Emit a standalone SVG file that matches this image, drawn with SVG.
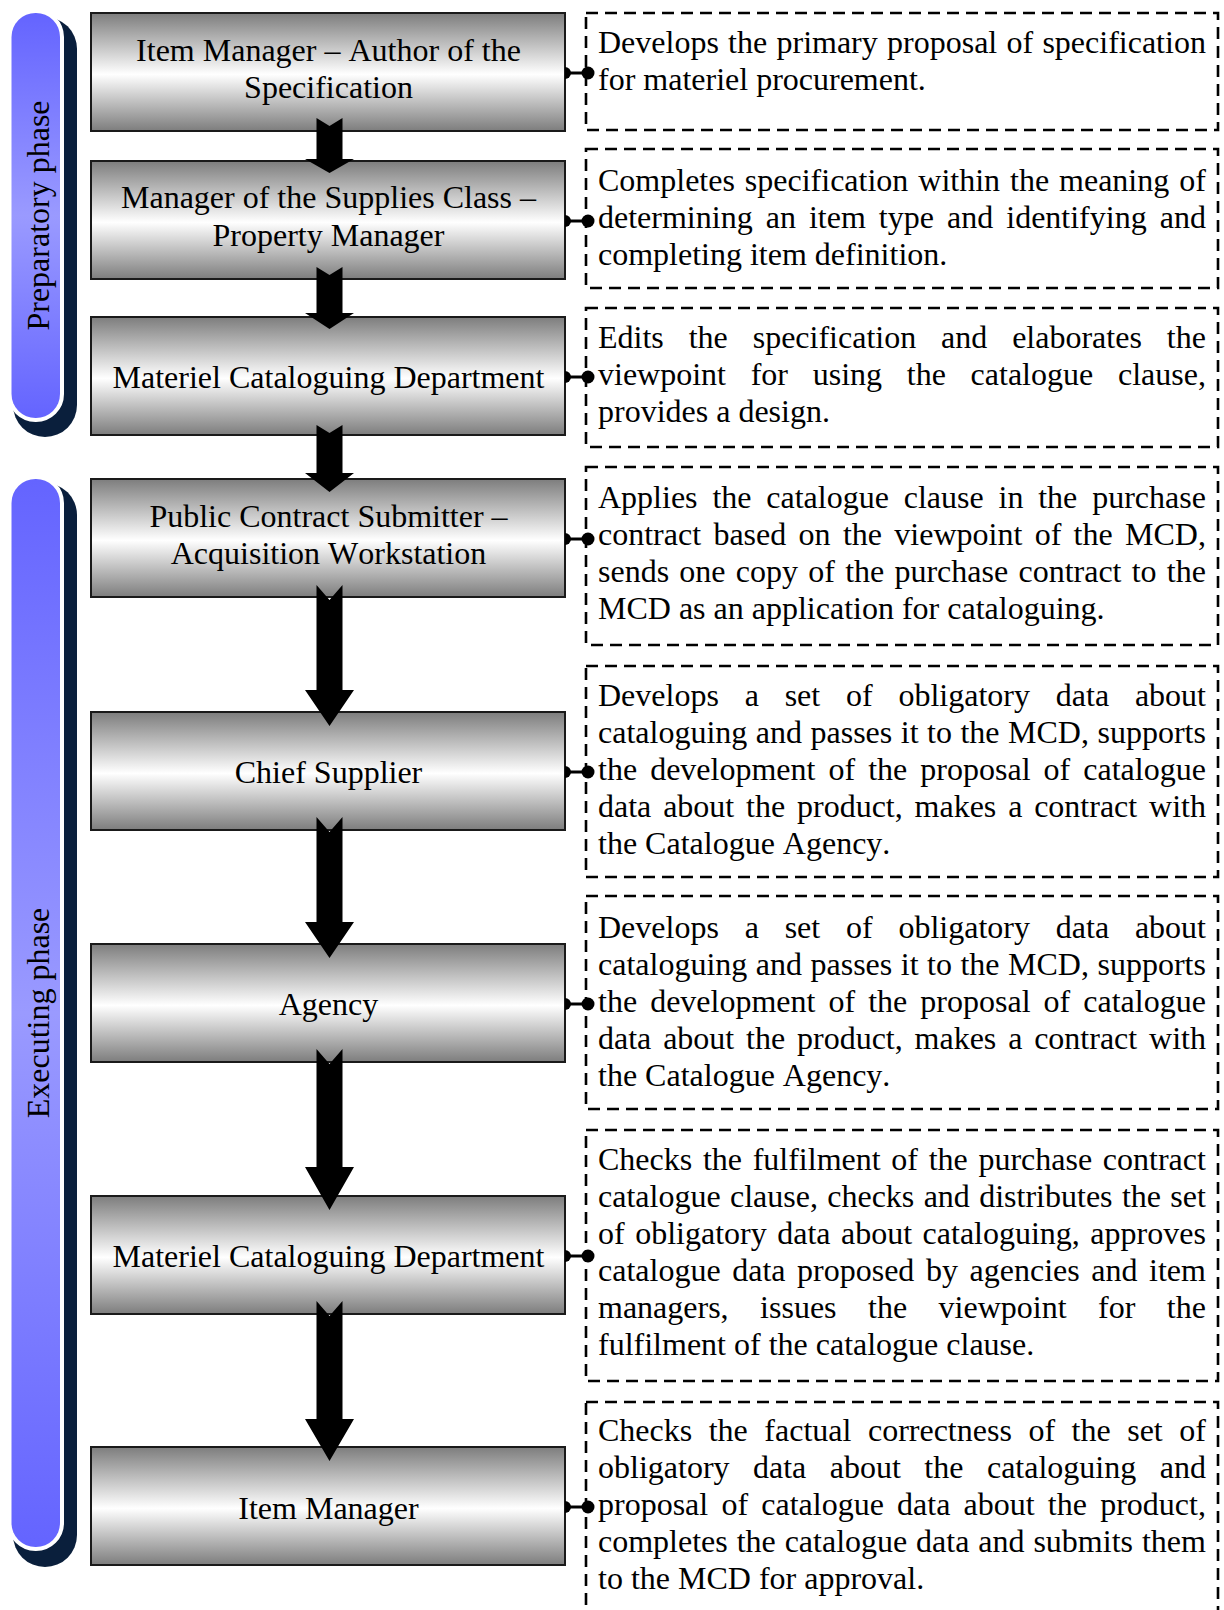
<svg xmlns="http://www.w3.org/2000/svg" width="1224" height="1610" viewBox="0 0 1224 1610">
<defs>
<linearGradient id="boxGrad" x1="0" y1="0" x2="0" y2="1">
<stop offset="0" stop-color="#7d7d7d"/>
<stop offset="0.52" stop-color="#ffffff"/>
<stop offset="1" stop-color="#7d7d7d"/>
</linearGradient>
<linearGradient id="blueGrad" x1="0" y1="0" x2="0" y2="1">
<stop offset="0" stop-color="#6464ff"/>
<stop offset="0.5" stop-color="#9a9aff"/>
<stop offset="1" stop-color="#6464ff"/>
</linearGradient>
</defs>
<style>
.box{fill:url(#boxGrad);stroke:#1a1a1a;stroke-width:2}
.lbl{font-family:"Liberation Serif","Times New Roman",serif;font-size:32px;fill:#000;text-anchor:middle;font-kerning:none}
.desc{fill:none;stroke:#000;stroke-width:2.6;stroke-dasharray:12 7}
.dt{font-family:"Liberation Serif","Times New Roman",serif;font-size:32px;fill:#000;font-kerning:none}
.shadow{fill:#0a1f3c}
.pill{fill:url(#blueGrad);stroke:#fff;stroke-width:8;paint-order:stroke}
.ptxt{font-family:"Liberation Serif","Times New Roman",serif;font-size:32px;fill:#000;text-anchor:middle;font-kerning:none}
.arrow{fill:#000}
.link{stroke:#000;stroke-width:3;fill:none}
.dot{fill:#000}
</style>

<g id="phase-preparatory">
<rect class="shadow" x="13" y="17" width="64" height="420" rx="32"/>
<rect class="pill" x="11.5" y="13" width="48.5" height="405" rx="24"/>
<text class="ptxt" transform="translate(49,215.5) rotate(-90)">Preparatory phase</text>
</g>
<g id="phase-executing">
<rect class="shadow" x="13" y="483" width="64" height="1084" rx="32"/>
<rect class="pill" x="11.5" y="479" width="48.5" height="1068" rx="24"/>
<text class="ptxt" transform="translate(49,1013) rotate(-90)">Executing phase</text>
</g>

<g id="node-item-manager-author">
<rect class="box" x="91" y="13" width="474" height="118"/>
<text class="lbl" x="328.5" y="61">Item Manager – Author of the</text>
<text class="lbl" x="328.5" y="98">Specification</text>
</g>
<g id="node-supplies-class-manager">
<rect class="box" x="91" y="161" width="474" height="118"/>
<text class="lbl" x="328.5" y="208">Manager of the Supplies Class –</text>
<text class="lbl" x="328.5" y="246">Property Manager</text>
</g>
<g id="node-mcd-1">
<rect class="box" x="91" y="317" width="474" height="118"/>
<text class="lbl" x="328.5" y="388">Materiel Cataloguing Department</text>
</g>
<g id="node-contract-submitter">
<rect class="box" x="91" y="479" width="474" height="118"/>
<text class="lbl" x="328.5" y="527">Public Contract Submitter –</text>
<text class="lbl" x="328.5" y="564">Acquisition Workstation</text>
</g>
<g id="node-chief-supplier">
<rect class="box" x="91" y="712" width="474" height="118"/>
<text class="lbl" x="328.5" y="783">Chief Supplier</text>
</g>
<g id="node-agency">
<rect class="box" x="91" y="944" width="474" height="118"/>
<text class="lbl" x="328.5" y="1015">Agency</text>
</g>
<g id="node-mcd-2">
<rect class="box" x="91" y="1196" width="474" height="118"/>
<text class="lbl" x="328.5" y="1267">Materiel Cataloguing Department</text>
</g>
<g id="node-item-manager">
<rect class="box" x="91" y="1447" width="474" height="118"/>
<text class="lbl" x="328.5" y="1519">Item Manager</text>
</g>

<g id="desc-1">
<rect class="desc" x="586" y="13" width="632" height="117"/>
<text class="dt" x="598" y="53" word-spacing="1.26">Develops the primary proposal of specification</text>
<text class="dt" x="598" y="90">for materiel procurement.</text>
</g>
<g id="desc-2">
<rect class="desc" x="586" y="149" width="632" height="139"/>
<text class="dt" x="598" y="191" word-spacing="1.96">Completes specification within the meaning of</text>
<text class="dt" x="598" y="228" word-spacing="5.05">determining an item type and identifying and</text>
<text class="dt" x="598" y="265">completing item definition.</text>
</g>
<g id="desc-3">
<rect class="desc" x="586" y="308" width="632" height="139"/>
<text class="dt" x="598" y="348" word-spacing="16.9">Edits the specification and elaborates the</text>
<text class="dt" x="598" y="385" word-spacing="16.72">viewpoint for using the catalogue clause,</text>
<text class="dt" x="598" y="422">provides a design.</text>
</g>
<g id="desc-4">
<rect class="desc" x="586" y="467" width="632" height="178"/>
<text class="dt" x="598" y="508" word-spacing="6.83">Applies the catalogue clause in the purchase</text>
<text class="dt" x="598" y="545" word-spacing="4.33">contract based on the viewpoint of the MCD,</text>
<text class="dt" x="598" y="582" word-spacing="2.24">sends one copy of the purchase contract to the</text>
<text class="dt" x="598" y="619">MCD as an application for cataloguing.</text>
</g>
<g id="desc-5">
<rect class="desc" x="586" y="666" width="632" height="211"/>
<text class="dt" x="598" y="706" word-spacing="17.8">Develops a set of obligatory data about</text>
<text class="dt" x="598" y="743" word-spacing="0.51">cataloguing and passes it to the MCD, supports</text>
<text class="dt" x="598" y="780" word-spacing="5.05">the development of the proposal of catalogue</text>
<text class="dt" x="598" y="817" word-spacing="3.83">data about the product, makes a contract with</text>
<text class="dt" x="598" y="854">the Catalogue Agency.</text>
</g>
<g id="desc-6">
<rect class="desc" x="586" y="896" width="632" height="213"/>
<text class="dt" x="598" y="938" word-spacing="17.8">Develops a set of obligatory data about</text>
<text class="dt" x="598" y="975" word-spacing="0.51">cataloguing and passes it to the MCD, supports</text>
<text class="dt" x="598" y="1012" word-spacing="5.05">the development of the proposal of catalogue</text>
<text class="dt" x="598" y="1049" word-spacing="3.83">data about the product, makes a contract with</text>
<text class="dt" x="598" y="1086">the Catalogue Agency.</text>
</g>
<g id="desc-7">
<rect class="desc" x="586" y="1130" width="632" height="251"/>
<text class="dt" x="598" y="1170" word-spacing="2.68">Checks the fulfilment of the purchase contract</text>
<text class="dt" x="598" y="1207" word-spacing="1.35">catalogue clause, checks and distributes the set</text>
<text class="dt" x="598" y="1244" word-spacing="2.5">of obligatory data about cataloguing, approves</text>
<text class="dt" x="598" y="1281" word-spacing="3.58">catalogue data proposed by agencies and item</text>
<text class="dt" x="598" y="1318" word-spacing="23.48">managers, issues the viewpoint for the</text>
<text class="dt" x="598" y="1355">fulfilment of the catalogue clause.</text>
</g>
<g id="desc-8">
<rect class="desc" x="586" y="1402" width="632" height="220"/>
<text class="dt" x="598" y="1441" word-spacing="8.53">Checks the factual correctness of the set of</text>
<text class="dt" x="598" y="1478" word-spacing="15.48">obligatory data about the cataloguing and</text>
<text class="dt" x="598" y="1515" word-spacing="5.2">proposal of catalogue data about the product,</text>
<text class="dt" x="598" y="1552" word-spacing="0.9">completes the catalogue data and submits them</text>
<text class="dt" x="598" y="1589">to the MCD for approval.</text>
</g>

<g id="connectors">
<path class="arrow" d="M316.5,118 L329.5,126 L342.5,118 L342.5,159 L354,159 L329.5,173 L305,159 L316.5,159 Z"/>
<path class="arrow" d="M316.5,267 L329.5,275 L342.5,267 L342.5,313 L354,313 L329.5,329 L305,313 L316.5,313 Z"/>
<path class="arrow" d="M316.5,425 L329.5,433 L342.5,425 L342.5,473 L354,473 L329.5,492 L305,473 L316.5,473 Z"/>
<path class="arrow" d="M316.5,585 L329.5,600 L342.5,585 L342.5,690 L354,690 L329.5,726 L305,690 L316.5,690 Z"/>
<path class="arrow" d="M316.5,817 L329.5,832 L342.5,817 L342.5,922 L354,922 L329.5,958 L305,922 L316.5,922 Z"/>
<path class="arrow" d="M316.5,1049 L329.5,1064 L342.5,1049 L342.5,1167 L354,1167 L329.5,1210 L305,1167 L316.5,1167 Z"/>
<path class="arrow" d="M316.5,1301 L329.5,1316 L342.5,1301 L342.5,1419 L354,1419 L329.5,1461 L305,1419 L316.5,1419 Z"/>

<line class="link" x1="565" y1="73" x2="588" y2="73"/>
<path class="dot" d="M565,67 A6,6 0 0 1 565,79 Z"/><circle class="dot" cx="588" cy="73" r="6.5"/>
<line class="link" x1="565" y1="221" x2="588" y2="221"/>
<path class="dot" d="M565,215 A6,6 0 0 1 565,227 Z"/><circle class="dot" cx="588" cy="221" r="6.5"/>
<line class="link" x1="565" y1="377" x2="588" y2="377"/>
<path class="dot" d="M565,371 A6,6 0 0 1 565,383 Z"/><circle class="dot" cx="588" cy="377" r="6.5"/>
<line class="link" x1="565" y1="539" x2="588" y2="539"/>
<path class="dot" d="M565,533 A6,6 0 0 1 565,545 Z"/><circle class="dot" cx="588" cy="539" r="6.5"/>
<line class="link" x1="565" y1="772" x2="588" y2="772"/>
<path class="dot" d="M565,766 A6,6 0 0 1 565,778 Z"/><circle class="dot" cx="588" cy="772" r="6.5"/>
<line class="link" x1="565" y1="1004" x2="588" y2="1004"/>
<path class="dot" d="M565,998 A6,6 0 0 1 565,1010 Z"/><circle class="dot" cx="588" cy="1004" r="6.5"/>
<line class="link" x1="565" y1="1256" x2="588" y2="1256"/>
<path class="dot" d="M565,1250 A6,6 0 0 1 565,1262 Z"/><circle class="dot" cx="588" cy="1256" r="6.5"/>
<line class="link" x1="565" y1="1507" x2="588" y2="1507"/>
<path class="dot" d="M565,1501 A6,6 0 0 1 565,1513 Z"/><circle class="dot" cx="588" cy="1507" r="6.5"/>
</g>
</svg>
